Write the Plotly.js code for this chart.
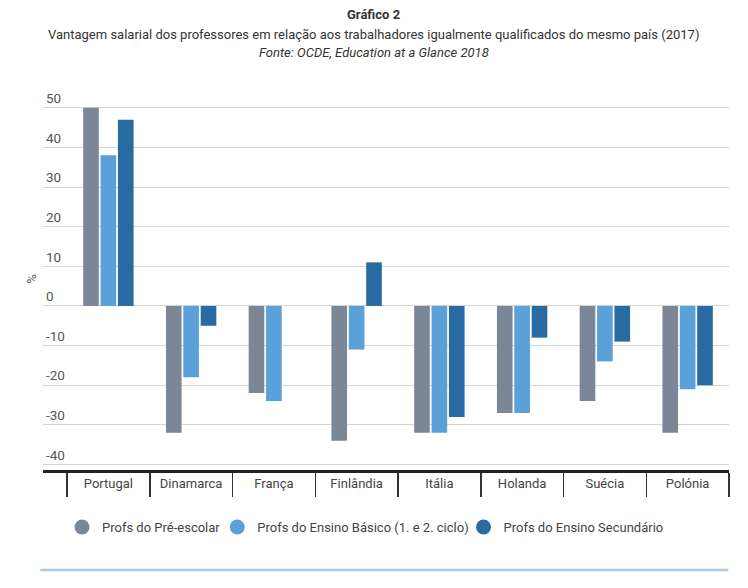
<!DOCTYPE html>
<html>
<head>
<meta charset="utf-8">
<script src="https://cdn.plot.ly/plotly-3.0.1.min.js"></script>
<style>
  html, body { margin: 0; padding: 0; background: #fff; }
  #chart { width: 748px; height: 588px; }
</style>
</head>
<body>
<div id="chart"></div>
<script>
// categories and values
var paises = ['Portugal', 'Dinamarca', 'França', 'Finlândia', 'Itália', 'Holanda', 'Suécia', 'Polónia'];
var preEscolar = [50, -32, -22, -34, -32, -27, -24, -32];
var ensinoBasico = [38, -18, -24, -11, -32, -27, -14, -21];
var ensinoSecundario = [47, -5, null, 11, -28, -8, -9, -20];

var nomes = ['Profs do Pré-escolar', 'Profs do Ensino Básico (1. e 2. ciclo)', 'Profs do Ensino Secundário'];
var cores = ['#7b8797', '#5aa1da', '#286ba3'];
var yTicks = [-40, -30, -20, -10, 0, 10, 20, 30, 40, 50];

var titulo = 'Gráfico 2';
var subtitulo = 'Vantagem salarial dos professores em relação aos trabalhadores igualmente qualificados do mesmo país (2017)';
var fonte = 'Fonte: OCDE, Education at a Glance 2018';

var series = [preEscolar, ensinoBasico, ensinoSecundario];
var legendas = ['legend', 'legend2', 'legend3'];
var legendX = [0.0277, 0.254, 0.613];

var data = [];
series.forEach(function (vals, i) {
    data.push({
        type: 'bar',
        x: paises,
        y: vals,
        name: nomes[i],
        marker: { color: cores[i] },
        showlegend: false
    });
});
// legend entries drawn as circles, one legend box each so they can be placed
nomes.forEach(function (nome, i) {
    data.push({
        type: 'scatter',
        mode: 'markers',
        x: [null],
        y: [null],
        name: nome,
        legend: legendas[i],
        marker: { color: cores[i], size: 15, symbol: 'circle' },
        showlegend: true
    });
});

function legenda(x) {
    return {
        orientation: 'h',
        x: x,
        xanchor: 'left',
        y: -0.1495,
        yanchor: 'middle',
        font: { size: 13, color: '#444' },
        bgcolor: 'rgba(0,0,0,0)',
        itemclick: false,
        itemdoubleclick: false
    };
}

var layout = {
    width: 748,
    height: 588,
    paper_bgcolor: '#fff',
    plot_bgcolor: '#fff',
    font: { family: 'Roboto, sans-serif', size: 13, color: '#444' },
    margin: { l: 43, r: 19, t: 88, b: 118 },
    barmode: 'group',
    bargap: 0.37,
    bargroupgap: 0.1,
    xaxis: {
        type: 'category',
        range: [-0.79, 7.5],
        showgrid: false,
        showline: true,
        linecolor: '#222',
        linewidth: 2.5,
        ticks: 'outside',
        tickson: 'boundaries',
        ticklen: 24,
        tickwidth: 1.5,
        tickcolor: '#333',
        tickfont: { size: 13, color: '#444' },
        fixedrange: true
    },
    yaxis: {
        range: [-41.4, 55],
        tickvals: yTicks,
        ticktext: yTicks.map(String),
        ticklabelposition: 'inside top',
        showgrid: true,
        gridcolor: '#d4d4d4',
        gridwidth: 1,
        zeroline: true,
        zerolinecolor: '#d4d4d4',
        zerolinewidth: 1,
        showline: false,
        tickfont: { size: 13.5, color: '#555' },
        title: { text: '%', font: { size: 13, color: '#555' }, standoff: 6 },
        fixedrange: true
    },
    legend: legenda(legendX[0]),
    legend2: legenda(legendX[1]),
    legend3: legenda(legendX[2]),
    annotations: [
        { text: '<b>' + titulo + '</b>', y: 14, size: 13 },
        { text: subtitulo, y: 34, size: 13 },
        { text: '<i>' + fonte + '</i>', y: 52, size: 13 }
    ].map(function (a) {
        return {
            text: a.text,
            xref: 'paper',
            yref: 'paper',
            x: 0.4825,
            // pixel row to paper fraction (plot spans 88..470)
            y: (470 - a.y) / 382,
            xanchor: 'center',
            yanchor: 'middle',
            showarrow: false,
            font: { family: 'Roboto, sans-serif', size: a.size, color: '#333' }
        };
    }),
    shapes: [{
        type: 'line',
        xref: 'paper',
        yref: 'paper',
        x0: -0.004,
        x1: 0.999,
        y0: -0.262,
        y1: -0.262,
        line: { color: '#a9cbe9', width: 2.5 }
    }]
};

Plotly.newPlot('chart', data, layout, { displayModeBar: false, staticPlot: true });
</script>
</body>
</html>
